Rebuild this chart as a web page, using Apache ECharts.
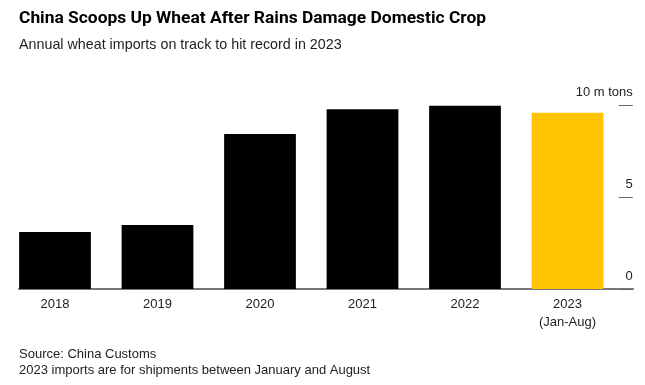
<!DOCTYPE html>
<html>
<head>
<meta charset="utf-8">
<script src="https://cdn.jsdelivr.net/npm/echarts@6/dist/echarts.min.js"></script>
<style>
html,body{margin:0;padding:0;background:#fff;}
#chart{width:645px;height:385px;}
</style>
</head>
<body>
<div id="chart"></div>
<script>
const categories = ['2018', '2019', '2020', '2021', '2022', '2023\n(Jan-Aug)'];
const imports = [3.1, 3.48, 8.42, 9.77, 9.96, 9.58];
const barColors = ['#000000', '#000000', '#000000', '#000000', '#000000', '#FFC400'];
const yTicks = [0, 5, 10];

const FONT = '"Liberation Sans", Arial, sans-serif';
const chart = echarts.init(document.getElementById('chart'), null, {renderer: 'canvas'});

chart.setOption({
  animation: false,
  backgroundColor: '#ffffff',
  title: [
    {text: 'China Scoops Up Wheat After Rains Damage Domestic Crop', left: 14, top: 5,
     textStyle: {fontFamily: 'Roboto, ' + FONT, fontWeight: 'bold', fontSize: 17.4, color: '#000'}},
    {text: 'Annual wheat imports on track to hit record in 2023', left: 14, top: 33,
     textStyle: {fontFamily: FONT, fontWeight: 'normal', fontSize: 14.3, color: '#222'}},
    {text: 'Source: China Customs\n2023 imports are for shipments between January and August', left: 14, top: 341,
     textStyle: {fontFamily: FONT, fontWeight: 'normal', fontSize: 13, lineHeight: 16, color: '#222'}}
  ],
  grid: [
    {left: 3.75, right: 26.25, top: 105, bottom: 96},
    {left: 19, right: 12, top: 105, bottom: 96}
  ],
  xAxis: [
    {type: 'category', gridIndex: 0, data: categories,
     axisLine: {show: false}, axisTick: {show: false},
     axisLabel: {color: '#222', fontFamily: FONT, fontSize: 13, lineHeight: 18, margin: 6}},
    {type: 'value', gridIndex: 1, min: 0, max: 1,
     axisLine: {show: true, lineStyle: {color: '#777', width: 2}},
     axisTick: {show: false}, axisLabel: {show: false}, splitLine: {show: false}}
  ],
  yAxis: [
    {type: 'value', gridIndex: 0, position: 'right', min: yTicks[0], max: yTicks[yTicks.length - 1], interval: 5,
     axisLine: {show: false},
     axisTick: {show: true, length: 14, lineStyle: {color: '#666', width: 1}},
     splitLine: {show: false},
     axisLabel: {color: '#222', fontFamily: FONT, fontSize: 13, align: 'right', margin: 14,
                 verticalAlign: 'bottom', padding: [0, 0, 6, 0],
                 formatter: v => v === 10 ? '10 m tons' : String(v)}},
    {type: 'value', gridIndex: 1, show: false, min: 0, max: 1}
  ],
  series: [
    {type: 'bar', xAxisIndex: 0, yAxisIndex: 0, barCategoryGap: '30%',
     data: imports.map((v, i) => ({value: v, itemStyle: {color: barColors[i]}}))}
  ]
});
</script>
</body>
</html>
